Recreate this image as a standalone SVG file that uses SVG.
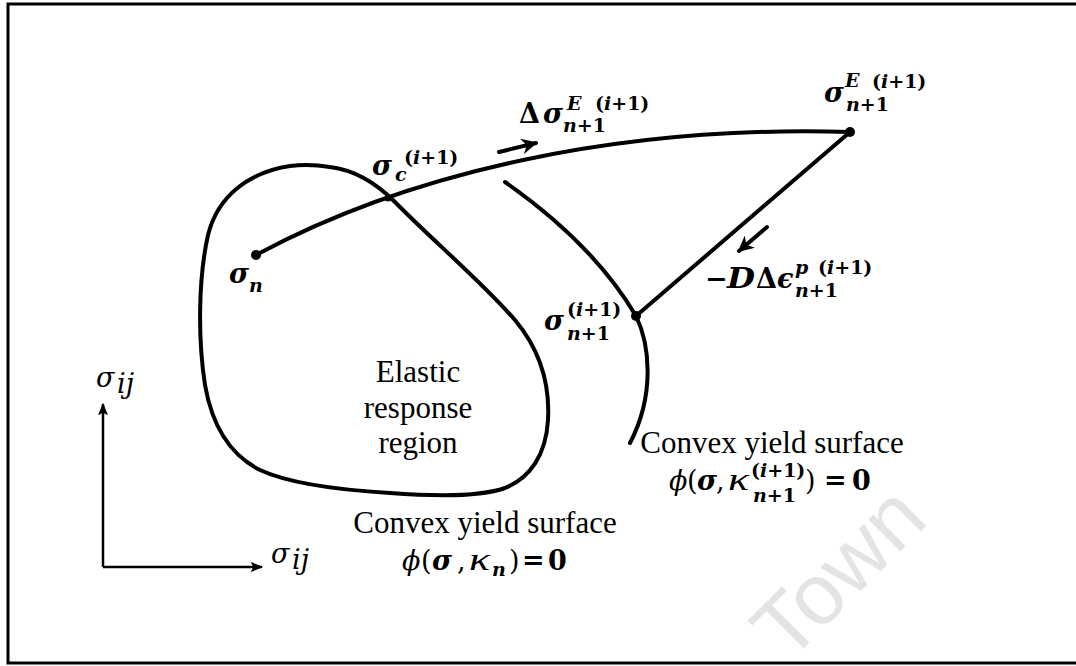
<svg xmlns="http://www.w3.org/2000/svg" width="1076" height="666" viewBox="0 0 1076 666">
<defs>
<style>
.ln{fill:none;stroke:#000;stroke-width:4;stroke-linecap:round;stroke-linejoin:round}
.ax{fill:none;stroke:#000;stroke-width:2.5}
.tx{font-family:"Liberation Serif",serif;font-size:31px;fill:#000}
.mb{font-family:"DejaVu Serif",serif;font-style:italic;font-weight:bold;font-size:27px;fill:#000}
.ub{font-family:"DejaVu Serif",serif;font-weight:bold;font-size:27px;fill:#000}
.mi{font-family:"DejaVu Serif",serif;font-style:italic;font-size:27px;fill:#000}
.ur{font-family:"DejaVu Serif",serif;font-size:27px;fill:#000}
.kp{font-family:"Liberation Serif",serif;font-style:italic;font-size:32px;fill:#000}
.sc{font-family:"DejaVu Serif",serif;font-weight:bold;font-size:19px;fill:#000}
.it{font-style:italic}
.wm{font-family:"Liberation Sans",sans-serif;font-size:86px;fill:#e4e4e4}
</style>
<marker id="ah" viewBox="0 0 10 10" refX="9" refY="5" markerWidth="4" markerHeight="4" orient="auto" markerUnits="strokeWidth">
<path d="M0,0 L10,5 L0,10 L3,5 Z" fill="#000"/>
</marker>
<marker id="axh" viewBox="0 0 10 10" refX="9" refY="5" markerWidth="5" markerHeight="5" orient="auto" markerUnits="strokeWidth">
<path d="M0,1 L10,5 L0,9 L2,5 Z" fill="#000"/>
</marker>
</defs>
<rect width="1076" height="666" fill="#fff"/>
<text class="wm" transform="translate(788,664) rotate(-45)">Town</text>
<path d="M1080,4 L8,4 L8,663 L1080,663" fill="none" stroke="#000" stroke-width="3"/>

<g id="yield-surface-n">
<path class="ln" d="M330,167 C355,170 375,182 395,202 C430,238 480,280 515,320 C540,350 550,385 548,420 C546,455 530,478 505,488 C480,497 430,496 390,493 C340,490 290,484 260,470 C230,455 212,425 205,385 C198,340 198,280 208,235 C218,195 250,172 290,166 C305,164 318,165 330,167 Z"/>
<text class="tx" text-anchor="middle" x="418" y="382">Elastic</text>
<text class="tx" text-anchor="middle" x="418" y="418">response</text>
<text class="tx" text-anchor="middle" x="418" y="453">region</text>
<text class="tx" text-anchor="middle" x="485" y="533">Convex yield surface</text>
<text class="mi" x="402" y="570">ϕ</text>
<text class="ur" x="421" y="570">(</text>
<text class="mb" x="432" y="570">σ</text>
<text class="ur" x="457" y="570">,</text>
<text class="kp" x="469" y="570" textLength="21" lengthAdjust="spacingAndGlyphs">κ</text>
<text class="sc it" x="492" y="576">n</text>
<text class="ur" x="509" y="570">)</text>
<text class="ub" x="522" y="569" font-size="24">=</text>
<text class="ub" x="548" y="570">0</text>
</g>

<g id="yield-surface-n1">
<path class="ln" d="M505,182 C545,210 600,255 636,316 C650,345 655,395 630,443"/>
<text class="tx" text-anchor="middle" x="772" y="453">Convex yield surface</text>
<text class="mi" x="669" y="490">ϕ</text>
<text class="ur" x="687" y="490">(</text>
<text class="mb" x="697" y="490">σ</text>
<text class="ur" x="716" y="490">,</text>
<text class="kp" x="728" y="490" textLength="21" lengthAdjust="spacingAndGlyphs">κ</text>
<text class="sc" x="751" y="477">(<tspan class="it">i</tspan>+1)</text>
<text class="sc" x="753" y="502"><tspan class="it">n</tspan>+1</text>
<text class="ur" x="805" y="490">)</text>
<text class="ub" x="824" y="489" font-size="24">=</text>
<text class="ub" x="852" y="490">0</text>
</g>

<g id="sigma-n">
<circle cx="256" cy="255" r="5" fill="#000"/>
<text class="mb" x="229" y="283">σ</text>
<text class="sc it" x="249" y="292">n</text>
</g>

<g id="sigma-c">
<circle cx="388" cy="198" r="3.5" fill="#000"/>
<text class="mb" x="372" y="175">σ</text>
<text class="sc it" x="395" y="181">c</text>
<text class="sc" x="404" y="164">(<tspan class="it">i</tspan>+1)</text>
</g>

<g id="sigma-trial">
<circle cx="850" cy="132" r="5" fill="#000"/>
<text class="mb" x="824" y="102">σ</text>
<text class="sc it" x="845" y="87">E</text>
<text class="sc" x="872" y="88">(<tspan class="it">i</tspan>+1)</text>
<text class="sc" x="846" y="111"><tspan class="it">n</tspan>+1</text>
</g>

<g id="sigma-n1">
<circle cx="636" cy="316" r="5" fill="#000"/>
<text class="mb" x="544" y="330">σ</text>
<text class="sc" x="567" y="316">(<tspan class="it">i</tspan>+1)</text>
<text class="sc" x="567" y="340"><tspan class="it">n</tspan>+1</text>
</g>

<g id="label-delta-sigma">
<text class="ub" x="519" y="123">Δ</text>
<text class="mb" x="543" y="123">σ</text>
<text class="sc it" x="567" y="110">E</text>
<text class="sc" x="595" y="110">(<tspan class="it">i</tspan>+1)</text>
<text class="sc" x="563" y="132"><tspan class="it">n</tspan>+1</text>
</g>

<g id="label-plastic">
<text class="ub" x="705" y="288">−</text>
<text class="mb" x="727" y="288" textLength="28" lengthAdjust="spacingAndGlyphs">D</text>
<text class="ub" x="756" y="288">Δ</text>
<text class="mb" x="777" y="288">ϵ</text>
<text class="sc it" x="795" y="274">p</text>
<text class="sc" x="818" y="274">(<tspan class="it">i</tspan>+1)</text>
<text class="sc" x="795" y="297"><tspan class="it">n</tspan>+1</text>
</g>

<g id="axes">
<path class="ax" d="M103,567 L103,404" marker-end="url(#axh)"/>
<path class="ax" d="M103,567 L262,567" marker-end="url(#axh)"/>
<text class="mi" font-size="25" x="96" y="387">σ</text>
<text class="mi" font-size="15" x="117" y="393">ij</text>
<text class="mi" font-size="25" x="271" y="563">σ</text>
<text class="mi" font-size="15" x="292" y="569">ij</text>
</g>

<g id="connectors">
<path class="ln" d="M256,255 C410,172 620,125 850,132"/>
<path class="ln" d="M850,132 L636,316"/>
<path class="ln" d="M499,152 L536,143" marker-end="url(#ah)"/>
<path class="ln" d="M767,227 L739,251" marker-end="url(#ah)"/>
</g>
</svg>
